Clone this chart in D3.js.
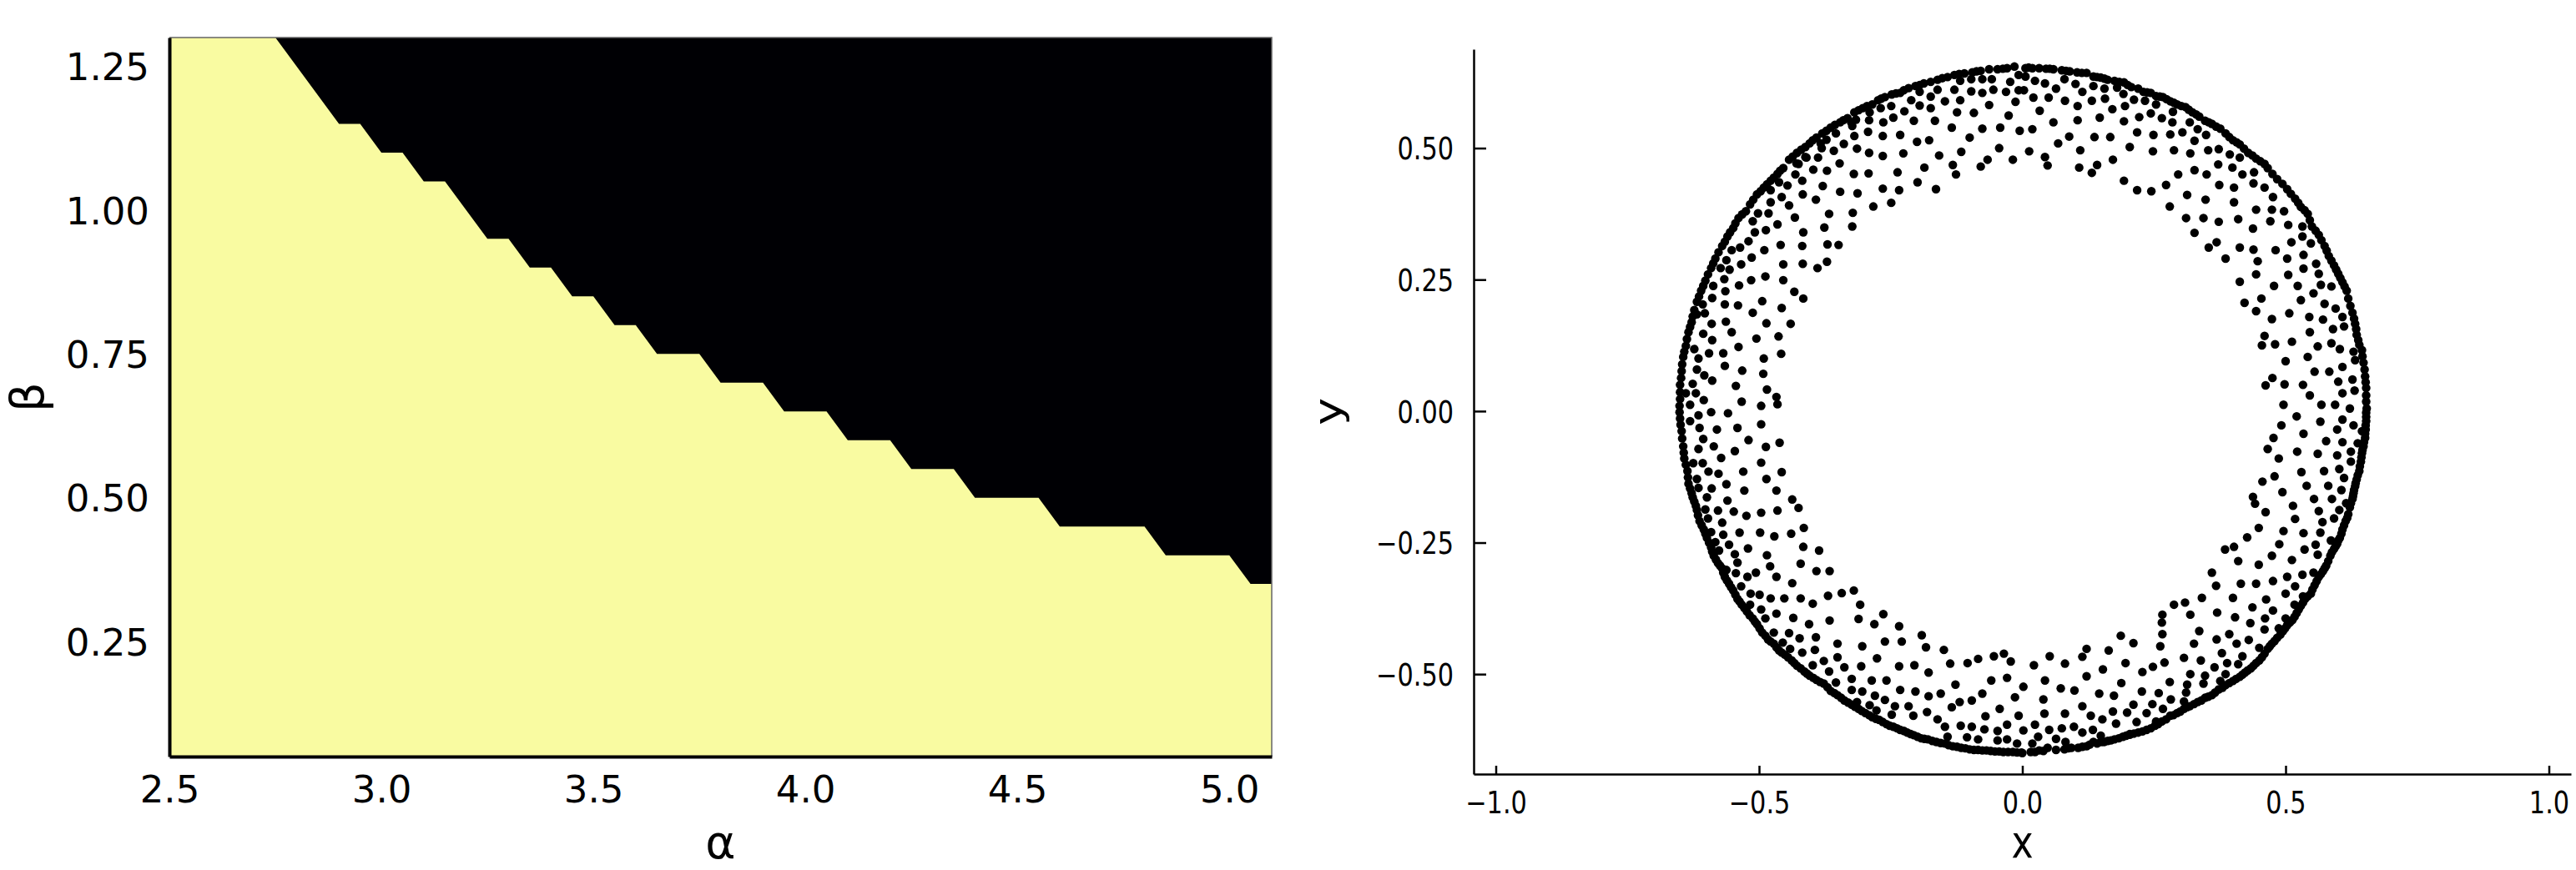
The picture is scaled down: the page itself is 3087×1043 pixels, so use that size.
<!DOCTYPE html>
<html>
<head>
<meta charset="utf-8">
<script src="https://cdn.jsdelivr.net/npm/d3@7"></script>
<style>
  body { margin: 0; background: #fff; }
  svg text { font-family: "DejaVu Sans", sans-serif; fill: #000; }
</style>
</head>
<body>
<div id="chart"></div>
<script>
window.onload = start;

var width = 3087;
var height = 1043;

// ---------- left panel: (alpha, beta) map ----------
var alphaTicks = [2.5, 3.0, 3.5, 4.0, 4.5, 5.0];
var betaTicks = [0.25, 0.50, 0.75, 1.00, 1.25];
var alphaDomain = [2.5, 5.1];
var betaDomain = [0.05, 1.30];
// edge between the light (low beta) and dark (high beta) regions
var edgeAlpha = [2.75, 2.90, 2.95, 3.00, 3.05, 3.10, 3.15, 3.25, 3.30, 3.35, 3.40, 3.45, 3.50, 3.55, 3.60, 3.65, 3.75, 3.80, 3.90, 3.95, 4.05, 4.10, 4.20, 4.25, 4.35, 4.40, 4.55, 4.60, 4.80, 4.85, 5.00, 5.05, 5.10];
var edgeBeta  = [1.30, 1.15, 1.15, 1.10, 1.10, 1.05, 1.05, 0.95, 0.95, 0.90, 0.90, 0.85, 0.85, 0.80, 0.80, 0.75, 0.75, 0.70, 0.70, 0.65, 0.65, 0.60, 0.60, 0.55, 0.55, 0.50, 0.50, 0.45, 0.45, 0.40, 0.40, 0.35, 0.35];

// ---------- right panel: scatter ----------
var xTicks = [-1.0, -0.5, 0.0, 0.5, 1.0];
var yTicks = [-0.50, -0.25, 0.00, 0.25, 0.50];
var xDomain = [-1.042, 1.042];
var yDomain = [-0.690, 0.688];

// outer band of points, by quadrant
var ringTL = [[-0.015,0.655],[-0.029,0.652],[-0.047,0.650],[-0.063,0.650],[-0.079,0.647],[-0.095,0.644],[-0.110,0.642],[-0.129,0.639],[-0.142,0.635],[-0.161,0.630],[-0.174,0.626],[-0.187,0.623],[-0.203,0.618],[-0.216,0.614],[-0.232,0.605],[-0.248,0.602],[-0.261,0.597],[-0.274,0.591],[-0.285,0.583],[-0.303,0.576],[-0.319,0.568],[-0.332,0.557],[-0.346,0.549],[-0.356,0.544],[-0.372,0.533],[-0.380,0.528],[-0.391,0.520],[-0.404,0.509],[-0.412,0.502],[-0.428,0.491],[-0.443,0.478],[-0.454,0.462],[-0.465,0.451],[-0.478,0.438],[-0.491,0.425],[-0.504,0.412],[-0.517,0.393],[-0.525,0.380],[-0.539,0.367],[-0.549,0.348],[-0.560,0.332],[-0.570,0.314],[-0.583,0.290],[-0.591,0.272],[-0.602,0.248],[-0.610,0.229],[-0.618,0.208],[-0.623,0.192],[-0.628,0.169],[-0.634,0.150],[-0.639,0.124],[-0.644,0.103],[-0.647,0.076],[-0.650,0.050],[-0.650,0.023],
  [-0.037,0.651],[-0.087,0.646],[-0.120,0.641],[-0.152,0.633],[-0.195,0.620],[-0.225,0.610],[-0.240,0.604],[-0.268,0.594],[-0.295,0.580],[-0.311,0.572],[-0.340,0.553],[-0.364,0.539],[-0.398,0.515],[-0.420,0.497],[-0.436,0.484],[-0.460,0.457],[-0.472,0.444],[-0.485,0.431],[-0.497,0.418],[-0.511,0.402],[-0.532,0.374],[-0.545,0.357],[-0.555,0.340],[-0.565,0.322],[-0.577,0.302],[-0.587,0.281],[-0.597,0.260],[-0.606,0.238],[-0.614,0.218],[-0.626,0.180],[-0.631,0.160],[-0.637,0.137],[-0.642,0.113],[-0.646,0.089],[-0.648,0.063],[-0.650,0.036],[-0.651,0.010]];

var ringTR = [[0.006,0.652],[0.019,0.652],[0.032,0.652],[0.045,0.651],[0.059,0.650],[0.075,0.648],[0.090,0.646],[0.104,0.644],[0.122,0.643],[0.135,0.636],[0.149,0.634],[0.162,0.630],[0.175,0.628],[0.193,0.625],[0.207,0.616],[0.220,0.613],[0.230,0.607],[0.244,0.605],[0.254,0.599],[0.267,0.597],[0.281,0.589],[0.294,0.583],[0.310,0.578],[0.323,0.568],[0.336,0.560],[0.347,0.552],[0.360,0.546],[0.376,0.537],[0.386,0.528],[0.400,0.515],[0.413,0.507],[0.429,0.491],[0.444,0.480],[0.460,0.470],[0.466,0.462],[0.484,0.441],[0.503,0.422],[0.518,0.404],[0.529,0.388],[0.542,0.375],[0.550,0.351],[0.563,0.335],[0.574,0.314],[0.582,0.295],[0.592,0.277],[0.600,0.261],[0.608,0.245],[0.616,0.229],[0.619,0.214],[0.627,0.187],[0.632,0.166],[0.635,0.145],[0.640,0.126],[0.645,0.116],[0.648,0.092],[0.651,0.066],[0.653,0.044],[0.653,0.018],
  [0.012,0.653],[0.052,0.651],[0.083,0.647],[0.113,0.643],[0.142,0.635],[0.156,0.632],[0.184,0.626],[0.200,0.620],[0.237,0.606],[0.261,0.598],[0.274,0.593],[0.288,0.586],[0.302,0.580],[0.316,0.573],[0.330,0.564],[0.354,0.549],[0.368,0.541],[0.393,0.521],[0.407,0.511],[0.421,0.499],[0.437,0.486],[0.452,0.475],[0.475,0.451],[0.494,0.432],[0.510,0.413],[0.524,0.396],[0.536,0.382],[0.546,0.363],[0.557,0.343],[0.568,0.325],[0.578,0.305],[0.587,0.286],[0.596,0.269],[0.604,0.253],[0.612,0.237],[0.623,0.200],[0.630,0.176],[0.634,0.156],[0.638,0.135],[0.646,0.104],[0.650,0.079],[0.652,0.055],[0.653,0.030],[0.654,0.005]];

var ringBL = [[-0.650,-0.014],[-0.647,-0.038],[-0.644,-0.067],[-0.642,-0.090],[-0.636,-0.114],[-0.634,-0.138],[-0.628,-0.156],[-0.623,-0.172],[-0.618,-0.188],[-0.613,-0.209],[-0.605,-0.225],[-0.599,-0.241],[-0.591,-0.259],[-0.586,-0.275],[-0.578,-0.289],[-0.570,-0.299],[-0.565,-0.315],[-0.557,-0.328],[-0.549,-0.341],[-0.541,-0.357],[-0.533,-0.368],[-0.523,-0.381],[-0.512,-0.394],[-0.504,-0.405],[-0.494,-0.421],[-0.483,-0.434],[-0.472,-0.442],[-0.462,-0.455],[-0.451,-0.463],[-0.438,-0.474],[-0.428,-0.484],[-0.414,-0.495],[-0.404,-0.503],[-0.391,-0.511],[-0.377,-0.518],[-0.364,-0.532],[-0.351,-0.540],[-0.338,-0.550],[-0.324,-0.558],[-0.311,-0.566],[-0.298,-0.574],[-0.285,-0.582],[-0.272,-0.587],[-0.258,-0.595],[-0.245,-0.600],[-0.232,-0.606],[-0.219,-0.611],[-0.206,-0.616],[-0.192,-0.622],[-0.179,-0.624],[-0.163,-0.629],[-0.147,-0.632],[-0.132,-0.637],[-0.116,-0.640],[-0.100,-0.643],[-0.084,-0.644],[-0.068,-0.645],[-0.052,-0.647],[-0.036,-0.648],[-0.018,-0.648],[-0.002,-0.649],
  [-0.651,-0.002],[-0.649,-0.026],[-0.646,-0.052],[-0.643,-0.079],[-0.639,-0.102],[-0.635,-0.126],[-0.631,-0.147],[-0.626,-0.164],[-0.620,-0.180],[-0.616,-0.198],[-0.609,-0.217],[-0.602,-0.233],[-0.595,-0.250],[-0.589,-0.267],[-0.582,-0.282],[-0.574,-0.294],[-0.568,-0.307],[-0.561,-0.322],[-0.553,-0.335],[-0.545,-0.349],[-0.537,-0.362],[-0.528,-0.374],[-0.518,-0.388],[-0.508,-0.400],[-0.499,-0.413],[-0.488,-0.427],[-0.478,-0.438],[-0.467,-0.449],[-0.457,-0.459],[-0.445,-0.468],[-0.433,-0.479],[-0.421,-0.489],[-0.409,-0.499],[-0.397,-0.507],[-0.384,-0.515],[-0.370,-0.525],[-0.357,-0.536],[-0.344,-0.545],[-0.331,-0.554],[-0.318,-0.562],[-0.305,-0.570],[-0.291,-0.578],[-0.278,-0.585],[-0.265,-0.591],[-0.252,-0.598],[-0.238,-0.603],[-0.225,-0.608],[-0.212,-0.614],[-0.199,-0.619],[-0.186,-0.623],[-0.171,-0.627],[-0.155,-0.631],[-0.140,-0.635],[-0.124,-0.638],[-0.108,-0.641],[-0.092,-0.644],[-0.076,-0.645],[-0.060,-0.646],[-0.044,-0.647],[-0.027,-0.648],[-0.010,-0.649]];

var ringBR = [[0.016,-0.648],[0.032,-0.645],[0.048,-0.640],[0.080,-0.643],[0.093,-0.640],[0.106,-0.640],[0.122,-0.637],[0.135,-0.629],[0.149,-0.629],[0.162,-0.627],[0.175,-0.624],[0.191,-0.619],[0.204,-0.614],[0.220,-0.611],[0.236,-0.606],[0.252,-0.598],[0.265,-0.590],[0.281,-0.579],[0.294,-0.574],[0.307,-0.566],[0.318,-0.561],[0.333,-0.553],[0.347,-0.545],[0.360,-0.540],[0.373,-0.529],[0.386,-0.521],[0.400,-0.513],[0.413,-0.505],[0.423,-0.497],[0.434,-0.489],[0.444,-0.479],[0.455,-0.468],[0.466,-0.452],[0.474,-0.442],[0.484,-0.431],[0.495,-0.418],[0.503,-0.407],[0.513,-0.397],[0.521,-0.384],[0.529,-0.370],[0.537,-0.357],[0.548,-0.347],[0.555,-0.331],[0.563,-0.315],[0.571,-0.304],[0.577,-0.294],[0.585,-0.275],[0.592,-0.262],[0.598,-0.252],[0.603,-0.241],[0.608,-0.225],[0.614,-0.209],[0.619,-0.196],[0.622,-0.183],[0.627,-0.167],[0.629,-0.156],[0.632,-0.143],[0.635,-0.130],[0.640,-0.114],[0.643,-0.096],[0.645,-0.080],[0.648,-0.067],[0.651,-0.051],[0.652,-0.035],[0.653,-0.019],[0.653,-0.003],
  [0.000,-0.650],[0.024,-0.648],[0.040,-0.646],[0.064,-0.644],[0.087,-0.641],[0.114,-0.638],[0.128,-0.634],[0.142,-0.632],[0.155,-0.629],[0.168,-0.626],[0.183,-0.622],[0.197,-0.617],[0.212,-0.613],[0.228,-0.609],[0.244,-0.603],[0.258,-0.595],[0.273,-0.586],[0.287,-0.578],[0.300,-0.571],[0.313,-0.563],[0.326,-0.557],[0.340,-0.550],[0.353,-0.543],[0.366,-0.535],[0.380,-0.526],[0.393,-0.517],[0.406,-0.509],[0.418,-0.501],[0.428,-0.493],[0.439,-0.484],[0.450,-0.474],[0.460,-0.461],[0.470,-0.447],[0.479,-0.437],[0.490,-0.425],[0.499,-0.413],[0.508,-0.402],[0.517,-0.391],[0.525,-0.377],[0.533,-0.364],[0.542,-0.352],[0.551,-0.339],[0.559,-0.323],[0.567,-0.310],[0.574,-0.299],[0.581,-0.285],[0.588,-0.268],[0.595,-0.257],[0.600,-0.246],[0.606,-0.233],[0.611,-0.217],[0.617,-0.203],[0.624,-0.175],[0.628,-0.162],[0.630,-0.150],[0.633,-0.137],[0.637,-0.122],[0.641,-0.105],[0.644,-0.088],[0.646,-0.074],[0.649,-0.059],[0.651,-0.043],[0.652,-0.027],[0.653,-0.011]];

// scattered points inside the band, by quadrant
var innerTL = [[-0.058,0.631],[-0.097,0.631],[-0.118,0.628],[-0.076,0.631],[-0.195,0.607],[-0.211,0.591],[-0.269,0.576],[-0.290,0.568],[-0.325,0.549],[-0.354,0.528],[-0.383,0.509],[-0.412,0.483],[-0.425,0.470],[-0.462,0.435],[-0.478,0.420],[-0.512,0.361],[-0.552,0.306],[-0.562,0.287],[-0.573,0.272],[-0.587,0.238],[-0.607,0.203],[-0.618,0.184],[-0.623,0.118],[-0.639,0.034],[-0.631,0.012],[-0.626,0.052],[-0.620,0.034],[-0.605,0.021],[-0.615,0.100],[-0.618,0.079],[-0.603,0.186],[-0.590,0.166],[-0.606,0.147],[-0.589,0.135],[-0.595,0.110],[-0.604,0.068],[-0.589,0.058],[-0.589,0.215],[-0.566,0.251],[-0.536,0.311],[-0.520,0.323],[-0.508,0.340],[-0.487,0.344],[-0.502,0.376],[-0.482,0.376],[-0.465,0.355],[-0.478,0.397],[-0.457,0.407],[-0.446,0.429],[-0.443,0.391],[-0.431,0.450],[-0.418,0.438],[-0.429,0.471],[-0.410,0.482],[-0.388,0.482],[-0.381,0.500],[-0.397,0.459],[-0.371,0.457],[-0.379,0.428],[-0.417,0.412],[-0.432,0.368],[-0.416,0.340],[-0.392,0.402],[-0.367,0.375],[-0.376,0.349],[-0.358,0.495],[-0.347,0.471],[-0.339,0.508],[-0.372,0.516],[-0.346,0.417],[-0.320,0.451],[-0.314,0.499],[-0.319,0.523],[-0.323,0.542],[-0.316,0.554],[-0.291,0.553],[-0.293,0.531],[-0.249,0.580],[-0.245,0.558],[-0.264,0.549],[-0.265,0.523],[-0.291,0.491],[-0.265,0.485],[-0.292,0.452],[-0.313,0.414],[-0.322,0.377],[-0.323,0.351],[-0.349,0.316],[-0.370,0.317],[-0.371,0.284],[-0.389,0.272],[-0.417,0.280],[-0.418,0.314],[-0.459,0.316],[-0.490,0.306],[-0.514,0.292],[-0.534,0.279],[-0.556,0.269],[-0.454,0.279],[-0.454,0.249],[-0.488,0.256],[-0.515,0.249],[-0.538,0.239],[-0.564,0.228],[-0.565,0.203],[-0.540,0.201],[-0.512,0.187],[-0.494,0.209],[-0.457,0.196],[-0.433,0.227],[-0.416,0.214],[-0.440,0.166],[-0.486,0.167],[-0.505,0.138],[-0.539,0.122],[-0.552,0.150],[-0.563,0.170],[-0.568,0.110],[-0.565,0.086],[-0.532,0.077],[-0.491,0.100],[-0.458,0.109],[-0.463,0.142],[-0.492,0.071],[-0.544,0.048],[-0.485,0.041],[-0.467,0.027],[-0.533,0.018],[-0.496,0.010],[-0.465,0.013],
  [-0.007,0.639],[-0.023,0.626],[-0.055,0.611],[-0.076,0.605],[-0.097,0.608],[-0.129,0.611],[-0.161,0.611],[-0.174,0.598],[-0.147,0.589],[-0.118,0.591],[-0.031,0.607],[-0.007,0.610],[-0.013,0.588],[-0.063,0.582],[-0.092,0.567],[-0.124,0.568],[-0.174,0.576],[-0.195,0.581],[-0.224,0.570],[-0.206,0.552],[-0.166,0.552],[-0.134,0.539],[-0.100,0.520],[-0.076,0.537],[-0.042,0.539],[-0.026,0.562],[-0.005,0.533],[-0.018,0.478],[-0.044,0.500],[-0.066,0.478],[-0.079,0.465],[-0.116,0.493],[-0.132,0.468],[-0.126,0.450],[-0.158,0.486],[-0.177,0.515],[-0.200,0.512],[-0.186,0.463],[-0.199,0.435],[-0.164,0.422],[-0.234,0.420],[-0.265,0.423],[-0.283,0.389],[-0.249,0.396],[-0.237,0.454],[-0.226,0.490],[-0.232,0.525]];

var innerTR = [[0.003,0.610],[0.021,0.596],[0.050,0.596],[0.081,0.590],[0.105,0.580],[0.132,0.590],[0.157,0.594],[0.171,0.574],[0.195,0.580],[0.212,0.592],[0.233,0.590],[0.254,0.583],[0.192,0.603],[0.180,0.615],[0.156,0.613],[0.135,0.618],[0.114,0.607],[0.101,0.622],[0.080,0.631],[0.064,0.613],[0.043,0.623],[0.024,0.628],[0.006,0.636],[0.033,0.571],[0.059,0.549],[0.105,0.553],[0.147,0.558],[0.193,0.551],[0.222,0.559],[0.244,0.566],[0.265,0.557],[0.286,0.569],[0.285,0.549],[0.304,0.530],[0.318,0.549],[0.333,0.536],[0.349,0.525],[0.019,0.536],[0.089,0.522],[0.068,0.509],[0.137,0.521],[0.167,0.521],[0.218,0.530],[0.249,0.525],[0.281,0.526],[0.327,0.514],[0.353,0.496],[0.373,0.498],[0.394,0.488],[0.413,0.482],[0.013,0.494],[0.043,0.483],[0.048,0.467],[0.110,0.496],[0.108,0.463],[0.132,0.453],[0.142,0.468],[0.172,0.478],[0.204,0.502],[0.248,0.494],[0.288,0.496],[0.319,0.490],[0.350,0.450],[0.372,0.469],[0.399,0.463],[0.418,0.450],[0.440,0.454],[0.193,0.438],[0.218,0.420],[0.245,0.418],[0.273,0.430],[0.296,0.450],[0.327,0.458],[0.374,0.430],[0.402,0.425],[0.439,0.433],[0.460,0.425],[0.476,0.407],[0.280,0.389],[0.313,0.411],[0.348,0.402],[0.402,0.397],[0.444,0.383],[0.474,0.383],[0.497,0.380],[0.311,0.367],[0.344,0.367],[0.373,0.360],[0.410,0.365],[0.438,0.347],[0.471,0.361],[0.505,0.354],[0.532,0.351],[0.327,0.339],[0.354,0.311],[0.369,0.321],[0.386,0.290],[0.413,0.311],[0.439,0.307],[0.481,0.306],[0.511,0.321],[0.532,0.332],[0.548,0.319],[0.447,0.285],[0.444,0.260],[0.503,0.290],[0.534,0.297],[0.558,0.280],[0.413,0.246],[0.478,0.238],[0.505,0.259],[0.534,0.271],[0.563,0.261],[0.523,0.238],[0.567,0.240],[0.587,0.237],[0.422,0.206],[0.454,0.214],[0.444,0.190],[0.474,0.175],[0.507,0.186],[0.529,0.211],[0.553,0.224],[0.574,0.204],[0.595,0.195],[0.460,0.143],[0.455,0.125],[0.480,0.127],[0.512,0.132],[0.545,0.179],[0.571,0.174],[0.608,0.179],[0.546,0.150],[0.590,0.156],[0.611,0.161],[0.500,0.095],[0.542,0.103],[0.561,0.123],[0.587,0.129],[0.603,0.118],[0.629,0.113],[0.632,0.097],[0.475,0.063],[0.462,0.049],[0.498,0.051],[0.533,0.050],[0.555,0.075],[0.583,0.075],[0.608,0.084],[0.627,0.060],[0.600,0.056],[0.496,0.012],[0.546,0.030],[0.568,0.012],[0.594,0.012],[0.608,0.034],[0.631,0.039]];

var innerBL = [[-0.591,-0.002],[-0.559,-0.004],[-0.615,-0.008],[-0.631,-0.019],[-0.496,-0.025],[-0.541,-0.032],[-0.580,-0.035],[-0.613,-0.032],[-0.606,-0.053],[-0.586,-0.067],[-0.615,-0.072],[-0.546,-0.076],[-0.520,-0.055],[-0.487,-0.068],[-0.461,-0.060],[-0.572,-0.089],[-0.607,-0.099],[-0.625,-0.099],[-0.496,-0.098],[-0.457,-0.116],[-0.530,-0.115],[-0.577,-0.119],[-0.596,-0.115],[-0.486,-0.129],[-0.618,-0.129],[-0.562,-0.139],[-0.590,-0.147],[-0.615,-0.146],[-0.528,-0.151],[-0.467,-0.151],[-0.599,-0.164],[-0.560,-0.170],[-0.437,-0.168],[-0.425,-0.184],[-0.578,-0.189],[-0.548,-0.191],[-0.524,-0.199],[-0.496,-0.193],[-0.465,-0.189],[-0.602,-0.187],[-0.597,-0.204],[-0.570,-0.212],[-0.415,-0.222],[-0.439,-0.233],[-0.471,-0.238],[-0.498,-0.231],[-0.537,-0.231],[-0.568,-0.235],[-0.591,-0.230],[-0.557,-0.254],[-0.521,-0.261],[-0.416,-0.258],[-0.386,-0.265],[-0.583,-0.249],[-0.576,-0.265],[-0.546,-0.272],[-0.485,-0.274],[-0.421,-0.290],[-0.391,-0.304],[-0.366,-0.304],[-0.479,-0.295],[-0.541,-0.288],[-0.506,-0.307],[-0.522,-0.315],[-0.544,-0.308],[-0.562,-0.302],[-0.467,-0.315],[-0.437,-0.327],[-0.534,-0.333],[-0.516,-0.347],[-0.499,-0.349],[-0.478,-0.356],[-0.452,-0.356],[-0.421,-0.356],[-0.398,-0.366],[-0.369,-0.351],[-0.343,-0.346],[-0.320,-0.341],[-0.308,-0.368],[-0.517,-0.368],[-0.496,-0.377],[-0.467,-0.385],[-0.488,-0.394],[-0.435,-0.393],[-0.405,-0.405],[-0.366,-0.398],[-0.311,-0.395],[-0.281,-0.405],[-0.264,-0.386],[-0.234,-0.409],[-0.191,-0.426],[-0.472,-0.421],[-0.443,-0.422],[-0.423,-0.432],[-0.392,-0.430],[-0.351,-0.442],[-0.304,-0.447],[-0.261,-0.438],[-0.229,-0.438],[-0.183,-0.449],[-0.149,-0.454],[-0.455,-0.440],[-0.441,-0.452],[-0.418,-0.459],[-0.394,-0.454],[-0.377,-0.475],[-0.351,-0.468],[-0.306,-0.485],[-0.276,-0.470],[-0.234,-0.485],[-0.205,-0.483],[-0.178,-0.497],[-0.137,-0.480],[-0.104,-0.479],[-0.084,-0.471],[-0.054,-0.466],[-0.035,-0.461],[-0.022,-0.476],[-0.398,-0.483],[-0.367,-0.495],[-0.338,-0.487],[-0.324,-0.509],[-0.286,-0.512],[-0.258,-0.512],[-0.127,-0.520],[-0.059,-0.512],[-0.029,-0.507],[-0.354,-0.516],[-0.324,-0.530],[-0.304,-0.533],[-0.280,-0.541],[-0.232,-0.530],[-0.203,-0.533],[-0.178,-0.542],[-0.155,-0.537],[-0.119,-0.553],[-0.096,-0.550],[-0.076,-0.537],[-0.014,-0.544],[0.002,-0.524],[-0.314,-0.553],[-0.290,-0.559],[-0.261,-0.549],[-0.242,-0.561],[-0.216,-0.561],[-0.181,-0.572],[-0.161,-0.586],[-0.134,-0.563],[-0.070,-0.580],[-0.043,-0.566],[-0.007,-0.579],[-0.277,-0.569],[-0.248,-0.577],[-0.207,-0.579],[-0.147,-0.600],[-0.117,-0.598],[-0.096,-0.600],[-0.072,-0.605],[-0.047,-0.608],[-0.029,-0.596],[-0.142,-0.619],[-0.105,-0.620],[-0.084,-0.624],[-0.047,-0.626],[-0.029,-0.624],[-0.010,-0.632]];

var innerBR = [[0.622,0.005],[0.521,-0.010],[0.566,-0.020],[0.608,-0.016],[0.629,-0.027],[0.492,-0.027],[0.534,-0.043],[0.598,-0.035],[0.645,-0.038],[0.477,-0.051],[0.577,-0.057],[0.608,-0.059],[0.637,-0.061],[0.466,-0.072],[0.522,-0.077],[0.561,-0.081],[0.598,-0.084],[0.624,-0.077],[0.487,-0.090],[0.624,-0.096],[0.530,-0.116],[0.573,-0.114],[0.602,-0.110],[0.611,-0.127],[0.479,-0.124],[0.456,-0.134],[0.540,-0.142],[0.581,-0.142],[0.606,-0.150],[0.494,-0.154],[0.438,-0.163],[0.442,-0.176],[0.554,-0.167],[0.588,-0.167],[0.615,-0.175],[0.514,-0.180],[0.462,-0.192],[0.518,-0.205],[0.563,-0.190],[0.602,-0.188],[0.570,-0.211],[0.592,-0.204],[0.449,-0.222],[0.496,-0.228],[0.534,-0.232],[0.566,-0.231],[0.586,-0.246],[0.427,-0.240],[0.488,-0.253],[0.557,-0.254],[0.385,-0.263],[0.402,-0.258],[0.474,-0.275],[0.512,-0.283],[0.536,-0.263],[0.561,-0.273],[0.410,-0.285],[0.449,-0.292],[0.532,-0.311],[0.553,-0.307],[0.360,-0.307],[0.368,-0.332],[0.415,-0.328],[0.444,-0.328],[0.476,-0.323],[0.503,-0.315],[0.518,-0.333],[0.341,-0.355],[0.400,-0.355],[0.463,-0.358],[0.500,-0.347],[0.533,-0.352],[0.288,-0.368],[0.309,-0.364],[0.319,-0.387],[0.370,-0.383],[0.437,-0.373],[0.476,-0.379],[0.517,-0.368],[0.266,-0.387],[0.265,-0.402],[0.404,-0.392],[0.433,-0.403],[0.461,-0.394],[0.500,-0.394],[0.266,-0.424],[0.336,-0.418],[0.393,-0.424],[0.430,-0.435],[0.460,-0.415],[0.487,-0.413],[0.187,-0.427],[0.211,-0.441],[0.262,-0.447],[0.326,-0.442],[0.369,-0.434],[0.407,-0.442],[0.450,-0.450],[0.122,-0.452],[0.114,-0.467],[0.164,-0.455],[0.307,-0.469],[0.339,-0.474],[0.379,-0.460],[0.418,-0.466],[0.052,-0.466],[0.081,-0.480],[0.196,-0.479],[0.248,-0.486],[0.270,-0.478],[0.365,-0.487],[0.389,-0.479],[0.410,-0.481],[0.022,-0.483],[0.122,-0.504],[0.153,-0.491],[0.228,-0.496],[0.319,-0.500],[0.347,-0.503],[0.386,-0.500],[0.043,-0.512],[0.073,-0.527],[0.099,-0.531],[0.188,-0.517],[0.280,-0.515],[0.313,-0.520],[0.344,-0.518],[0.376,-0.513],[0.146,-0.537],[0.174,-0.541],[0.227,-0.533],[0.259,-0.536],[0.311,-0.535],[0.040,-0.548],[0.114,-0.561],[0.211,-0.558],[0.247,-0.557],[0.282,-0.548],[0.307,-0.552],[0.042,-0.575],[0.081,-0.575],[0.130,-0.579],[0.152,-0.586],[0.172,-0.571],[0.199,-0.573],[0.236,-0.574],[0.267,-0.566],[0.024,-0.596],[0.051,-0.606],[0.075,-0.603],[0.098,-0.600],[0.134,-0.606],[0.178,-0.594],[0.217,-0.591],[0.254,-0.590],[0.002,-0.607],[0.030,-0.619],[0.064,-0.623],[0.114,-0.611],[0.149,-0.617],[0.204,-0.615],[0.019,-0.632],[0.082,-0.629]];

var mapColors = { low: "#f9fba1", high: "#000004" };

function styleTicks(axisG, fontSize) {
  axisG.select(".domain").attr("stroke", "#000");
  axisG.selectAll(".tick line").attr("stroke", "#000").attr("stroke-width", 2.5);
  axisG.selectAll(".tick text").attr("font-size", fontSize).attr("fill", "#000");
}

function drawMap(svg) {
  var xL = d3.scaleLinear().domain(alphaDomain).range([203, 1524]);
  var yL = d3.scaleLinear().domain(betaDomain).range([907, 45]);
  var g = svg.append("g").attr("class", "map");

  // light background of the whole map
  g.append("rect")
    .attr("x", xL(alphaDomain[0])).attr("y", yL(betaDomain[1]))
    .attr("width", xL(alphaDomain[1]) - xL(alphaDomain[0]))
    .attr("height", yL(betaDomain[0]) - yL(betaDomain[1]))
    .attr("fill", mapColors.low);

  // dark region above the edge
  var pts = edgeAlpha.map(function (a, i) { return [a, edgeBeta[i]]; });
  pts.push([alphaDomain[1], betaDomain[1]]);
  var line = d3.line().x(function (d) { return xL(d[0]); }).y(function (d) { return yL(d[1]); });
  g.append("path").attr("d", line(pts) + "Z").attr("fill", mapColors.high);

  // thin top / right edge
  g.append("path")
    .attr("d", "M" + xL(alphaDomain[0]) + "," + yL(betaDomain[1]) + "H" + xL(alphaDomain[1]) + "V" + yL(betaDomain[0]))
    .attr("fill", "none").attr("stroke", "#666").attr("stroke-width", 1.5);

  var yAxis = g.append("g")
    .attr("transform", "translate(" + xL(alphaDomain[0]) + ",0)")
    .call(d3.axisLeft(yL).tickValues(betaTicks).tickSize(0).tickSizeOuter(0).tickPadding(24).tickFormat(d3.format(".2f")));
  styleTicks(yAxis, 45);
  yAxis.select(".domain").attr("stroke-width", 4);
  yAxis.selectAll(".tick text").attr("dy", "0.36em");

  var xAxis = g.append("g")
    .attr("transform", "translate(0," + yL(betaDomain[0]) + ")")
    .call(d3.axisBottom(xL).tickValues(alphaTicks).tickSize(0).tickSizeOuter(0).tickPadding(22).tickFormat(d3.format(".1f")));
  styleTicks(xAxis, 45);
  xAxis.select(".domain").attr("stroke-width", 4);
  xAxis.selectAll(".tick text").attr("dy", "0.73em");

  // axis titles sit close to the page edge, as in the original
  g.append("text").attr("x", (xL(alphaDomain[0]) + xL(alphaDomain[1])) / 2).attr("y", 1029)
    .attr("text-anchor", "middle").attr("font-size", 55).text("α");
  g.append("text").attr("transform", "translate(52," + ((yL(betaDomain[0]) + yL(betaDomain[1])) / 2) + ") rotate(-90)")
    .attr("text-anchor", "middle").attr("font-size", 56).text("β");
}

function drawScatter(svg) {
  var squeeze = 0.82;
  var xS = d3.scaleLinear().domain(xDomain).range([1766, 3081]);
  var yS = d3.scaleLinear().domain(yDomain).range([928, 59]);
  var g = svg.append("g").attr("class", "scatter");

  var allPoints = [].concat(ringTL, ringTR, ringBL, ringBR, innerTL, innerTR, innerBL, innerBR);
  g.selectAll("circle")
    .data(allPoints)
    .enter()
    .append("circle")
    .attr("cx", function (d) { return xS(d[0]); })
    .attr("cy", function (d) { return yS(d[1]); })
    .attr("r", 5.2)
    .attr("fill", "#000");

  var yAxis = g.append("g")
    .attr("transform", "translate(" + xS(xDomain[0]) + ",0)")
    .call(d3.axisLeft(yS).tickValues(yTicks).tickSizeInner(-15).tickSizeOuter(0).tickPadding(24).tickFormat(d3.format(".2f")));
  styleTicks(yAxis, 37);
  yAxis.select(".domain").attr("stroke-width", 2.5);
  yAxis.selectAll(".tick text")
    .attr("x", -24 / squeeze)
    .attr("dy", "0.36em")
    .attr("transform", "scale(" + squeeze + ",1)");

  var xAxis = g.append("g")
    .attr("transform", "translate(0," + yS(yDomain[0]) + ")")
    .call(d3.axisBottom(xS).tickValues(xTicks).tickSizeInner(-10).tickSizeOuter(0).tickPadding(20).tickFormat(d3.format(".1f")));
  styleTicks(xAxis, 37);
  xAxis.select(".domain").attr("stroke-width", 2.5);
  xAxis.selectAll(".tick text")
    .attr("y", 20)
    .attr("dy", "0.73em")
    .attr("transform", "scale(" + squeeze + ",1)");

  g.append("text")
    .attr("transform", "translate(" + ((xS(xDomain[0]) + xS(xDomain[1])) / 2) + ",1028) scale(" + squeeze + ",1)")
    .attr("text-anchor", "middle").attr("font-size", 54).text("x");
  g.append("text")
    .attr("transform", "translate(1607," + ((yS(yDomain[0]) + yS(yDomain[1])) / 2) + ") scale(" + squeeze + ",1) rotate(-90)")
    .attr("text-anchor", "middle").attr("font-size", 56).text("y");
}

function start() {
  var svg = d3.select("#chart")
    .append("svg")
    .attr("width", width)
    .attr("height", height);
  svg.append("rect").attr("width", width).attr("height", height).attr("fill", "#fff");

  drawMap(svg);
  drawScatter(svg);
}
</script>
</body>
</html>
